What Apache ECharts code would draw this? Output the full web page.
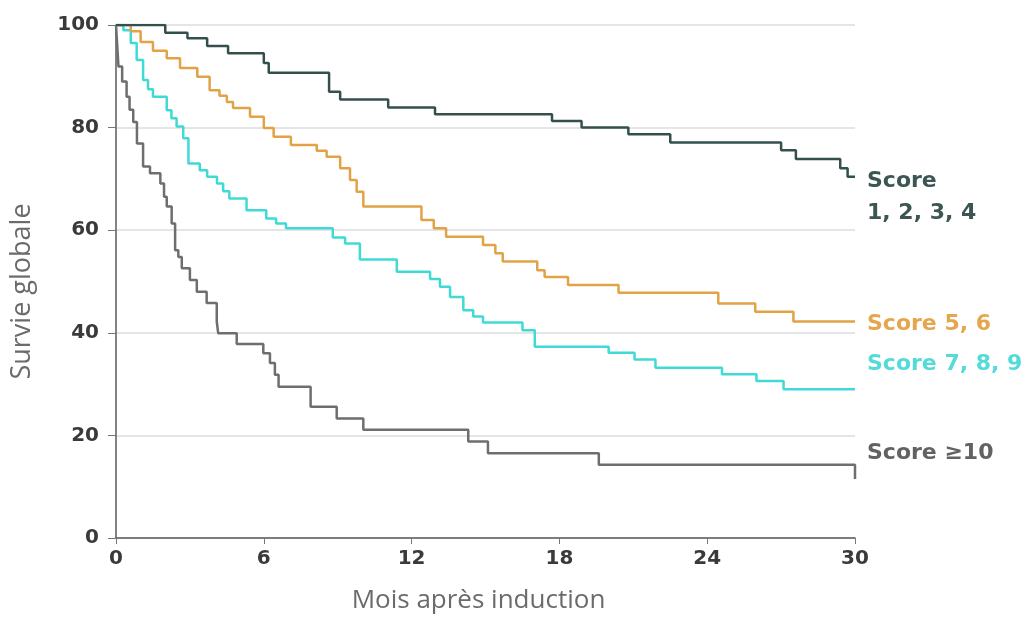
<!DOCTYPE html>
<html>
<head>
<meta charset="utf-8">
<script src="https://cdn.jsdelivr.net/npm/echarts@6/dist/echarts.min.js"></script>
<style>
html,body{margin:0;padding:0;background:#fff;}
#chart{width:1027px;height:630px;}
</style>
</head>
<body>
<div id="chart"></div>
<script>
// Kaplan-Meier step data: [month, survival %]
const seriesNames = ['Score\n1, 2, 3, 4', 'Score 5, 6', 'Score 7, 8, 9', 'Score ≥10'];
const xTicks = [0, 6, 12, 18, 24, 30];
const yTicks = [0, 20, 40, 60, 80, 100];

const score1to4 = [
  [0,100],[2.0,98.5],[2.9,97.4],[3.7,95.9],[4.55,94.5],[6.0,92.6],[6.2,90.7],
  [8.65,87.0],[9.1,85.5],[11.05,83.9],[12.95,82.6],[17.7,81.3],[18.9,80.0],
  [20.8,78.7],[22.5,77.1],[27.0,75.6],[27.6,73.9],[29.4,72.1],[29.7,70.4],[30,70.4]
];
const score5to6 = [
  [0,100],[0.6,98.8],[1.0,96.7],[1.5,95.0],[2.06,93.5],[2.6,91.6],[3.3,89.9],
  [3.8,87.3],[4.2,86.2],[4.5,85.0],[4.75,83.8],[5.44,82.1],[6.0,79.9],[6.4,78.2],
  [7.1,76.6],[8.15,75.5],[8.55,74.3],[9.1,72.1],[9.5,69.8],[9.77,67.5],[10.04,64.6],
  [12.4,62.0],[12.9,60.4],[13.4,58.7],[14.9,57.1],[15.4,55.5],[15.7,53.9],
  [17.1,52.2],[17.4,50.9],[18.35,49.3],[20.4,47.8],[24.45,45.7],[25.95,44.1],
  [27.5,42.2],[30,42.2]
];
const score7to9 = [
  [0,100],[0.3,99.0],[0.6,96.5],[0.84,93.2],[1.1,89.3],[1.3,87.5],[1.5,86.0],
  [2.06,83.4],[2.25,81.8],[2.46,80.2],[2.73,77.9],[2.94,73.0],[3.4,71.7],[3.7,70.4],
  [4.1,69.1],[4.35,67.6],[4.6,66.2],[5.3,63.9],[6.1,62.3],[6.5,61.3],[6.9,60.4],
  [8.8,58.6],[9.3,57.4],[9.9,54.3],[11.4,51.9],[12.75,50.5],[13.15,49.0],
  [13.56,47.0],[14.1,44.4],[14.5,43.2],[14.9,42.0],[16.5,40.5],[17.0,37.3],
  [20.0,36.1],[21.05,34.8],[21.9,33.2],[24.6,31.9],[26.0,30.6],[27.1,29.0],[30,29.0]
];
const score10plus = [
  [0,100],[0.05,96.0],[0.1,91.9],[0.25,89.0],[0.43,86.0],[0.55,83.5],[0.7,81.1],
  [0.85,76.9],[1.1,72.4],[1.38,71.1],[1.8,69.1],[1.95,66.5],[2.06,64.6],[2.26,61.3],
  [2.4,56.1],[2.53,54.8],[2.67,52.6],[3.0,50.3],[3.28,48.0],[3.68,45.8],[4.09,42.2],
  [4.15,39.9],[4.9,37.8],[5.98,36.0],[6.25,34.1],[6.45,31.8],[6.6,29.5],[7.9,25.6],
  [8.96,23.3],[10.04,21.1],[14.3,18.8],[15.1,16.5],[19.6,14.3],[30,11.5]
];

const colors = ['#34504d', '#e2a246', '#40dad6', '#6e6e6e'];
const labelColors = ['#3d5654', '#e5a650', '#55dada', '#626262'];
const allData = [score1to4, score5to6, score7to9, score10plus];
const labelOffsets = [[12, 20], [12, 3], [12, -25], [12, -26]];

const chart = echarts.init(document.getElementById('chart'), null, {renderer: 'canvas'});

const series = allData.map((d, i) => ({
  name: seriesNames[i],
  type: 'line',
  step: 'end',
  data: d,
  symbol: 'none',
  animation: false,
  lineStyle: {color: colors[i], width: 2.5},
  itemStyle: {color: colors[i]},
  z: 10 - i,
  endLabel: {
    show: true,
    formatter: seriesNames[i],
    color: labelColors[i],
    fontFamily: 'DejaVu Sans',
    fontWeight: 'bold',
    fontSize: 22,
    lineHeight: 32,
    align: 'left',
    offset: labelOffsets[i],
    distance: 0
  }
}));

chart.setOption({
  backgroundColor: '#ffffff',
  animation: false,
  grid: {left: 116, right: 172, top: 25, bottom: 92, containLabel: false},
  xAxis: {
    type: 'value',
    min: 0, max: 30, interval: 6,
    name: 'Mois après induction',
    nameLocation: 'middle',
    nameGap: 50,
    nameTextStyle: {color: '#6b6b6b', fontSize: 26, fontFamily: 'Open Sans', padding: [0, 14, 0, 0]},
    axisLine: {show: true, lineStyle: {color: '#5a5a5a', width: 1.5}},
    axisTick: {show: true, length: 6, lineStyle: {color: '#777'}},
    axisLabel: {color: '#3a3a3a', fontSize: 20, fontWeight: 'bold', fontFamily: 'DejaVu Sans', margin: 11,
      formatter: v => xTicks.includes(v) ? String(v) : ''},
    splitLine: {show: false}
  },
  yAxis: {
    type: 'value',
    min: 0, max: 100, interval: 20,
    name: 'Survie globale',
    nameLocation: 'middle',
    nameGap: 80,
    nameTextStyle: {color: '#6b6b6b', fontSize: 27, fontFamily: 'Open Sans', padding: [0, 20, 0, 0]},
    axisLine: {show: true, lineStyle: {color: '#5a5a5a', width: 1.5}},
    axisTick: {show: true, length: 8, lineStyle: {color: '#777'}},
    axisLabel: {color: '#3a3a3a', fontSize: 20, fontWeight: 'bold', fontFamily: 'DejaVu Sans', margin: 17,
      formatter: v => yTicks.includes(v) ? String(v) : ''},
    splitLine: {show: true, lineStyle: {color: '#dcdcdc', width: 1.5}}
  },
  series: series
});
</script>
</body>
</html>
